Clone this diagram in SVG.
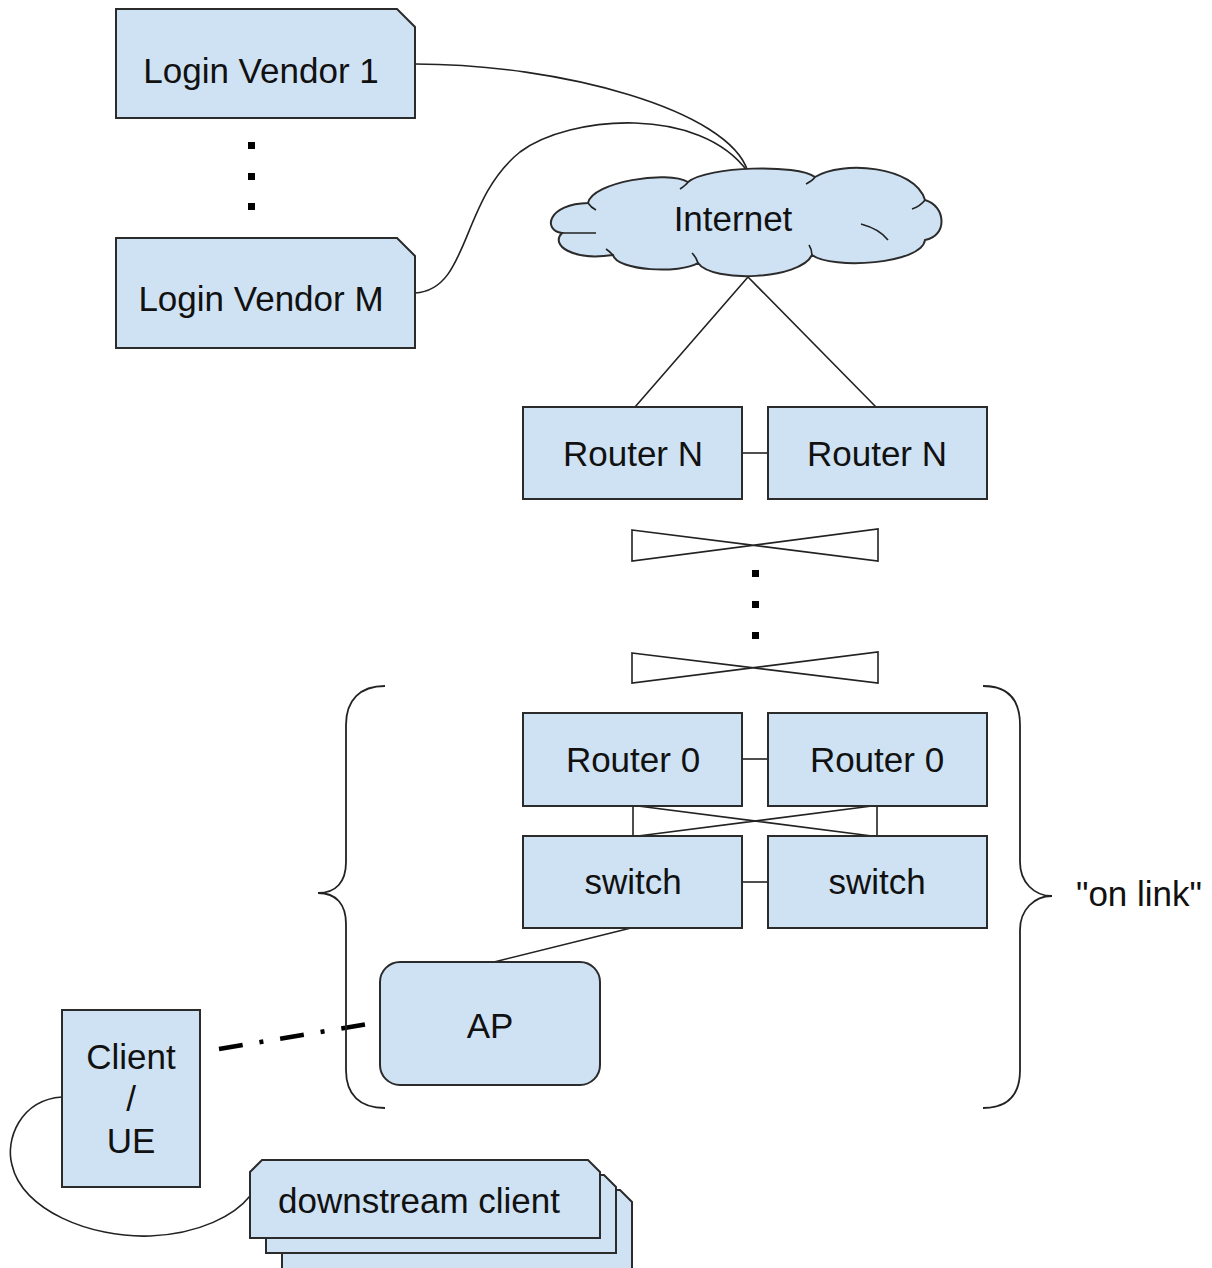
<svg xmlns="http://www.w3.org/2000/svg" width="1212" height="1268" viewBox="0 0 1212 1268">
<style>
.box{fill:#cfe2f3;stroke:#2b2b2b;stroke-width:2}
.lbl{font-family:"Liberation Sans",Arial,sans-serif;font-size:35px;fill:#111;text-anchor:middle}
.ln{fill:none;stroke:#222;stroke-width:1.6}
.dot{fill:#000}
.brace{fill:none;stroke:#222;stroke-width:1.8}
</style>
<rect width="1212" height="1268" fill="#fff"/>

<g id="connectors">
  <path class="ln" d="M415,64 C560,64 730,110 748,172"/>
  <path class="ln" d="M415,293 C470,290 460,200 520,152 C570,115 700,105 748,172"/>
  <path class="ln" d="M748,277 L635,407 M748,277 L876,407"/>
  <path class="ln" d="M742,453 L768,453"/>
  <path class="ln" d="M742,759 L768,759"/>
  <path class="ln" d="M633,806 L633,836 M877,806 L877,836 M638,806 L872,836 M872,806 L638,836"/>
  <path class="ln" d="M742,882 L768,882"/>
  <path class="ln" d="M631,928 L494,962"/>
  <path fill="none" stroke="#000" stroke-width="4.5" stroke-dasharray="24 17 4 17" d="M219,1049 L368,1024"/>
  <path class="ln" d="M62,1097 C20,1100 5,1140 12,1165 C22,1210 90,1238 150,1236 C200,1234 235,1215 250,1196"/>
</g>

<g id="vendor-1">
  <path class="box" d="M116,9 L397,9 L415,27 L415,118 L116,118 Z"/>
  <text class="lbl" x="261" y="83">Login Vendor 1</text>
</g>
<g id="vendor-dots">
  <rect class="dot" x="248" y="142" width="7" height="7"/>
  <rect class="dot" x="248" y="173" width="7" height="7"/>
  <rect class="dot" x="248" y="203" width="7" height="7"/>
</g>
<g id="vendor-m">
  <path class="box" d="M116,238 L397,238 L415,256 L415,348 L116,348 Z"/>
  <text class="lbl" x="261" y="311">Login Vendor M</text>
</g>

<g id="internet">
  <path class="box" d="M562,233 C542,230 548,204 588,203 C592,182 668,170 688,182 C708,166 798,164 815,177 C842,160 915,166 925,200 C946,206 948,236 925,240 C922,264 832,270 812,255 C800,280 712,283 698,263 C680,274 617,271 613,255 C572,261 550,245 562,233 Z"/>
  <path class="ln" d="M562,233 C575,233 588,233 596,233 M588,203 C590,206 592,208 596,210 M688,182 C686,185 683,187 680,189 M815,177 C813,180 810,182 806,184 M925,200 C922,204 918,207 912,209 M861,224 C872,227 882,232 888,240 M812,255 C812,251 811,248 809,245 M698,263 C697,259 695,256 692,253 M613,255 C611,253 609,251 606,249"/>
  <text class="lbl" x="733" y="231">Internet</text>
</g>

<g id="router-n-left">
  <rect class="box" x="523" y="407" width="219" height="92"/>
  <text class="lbl" x="633" y="466">Router N</text>
</g>
<g id="router-n-right">
  <rect class="box" x="768" y="407" width="219" height="92"/>
  <text class="lbl" x="877" y="466">Router N</text>
</g>

<g id="bowtie-top">
  <path fill="#fff" stroke="#222" stroke-width="1.6" d="M632,530 L878,561 L878,529 L632,561 Z"/>
</g>
<g id="middle-dots">
  <rect class="dot" x="752" y="570" width="7" height="7"/>
  <rect class="dot" x="752" y="601" width="7" height="7"/>
  <rect class="dot" x="752" y="632" width="7" height="7"/>
</g>
<g id="bowtie-bottom">
  <path fill="#fff" stroke="#222" stroke-width="1.6" d="M632,653 L878,683 L878,652 L632,683 Z"/>
</g>

<g id="brace-left">
  <path class="brace" d="M385,686 C360,686 346,700 346,725 L346,862 C346,882 336,893 318,893 C336,893 346,904 346,924 L346,1070 C346,1095 360,1108 385,1108"/>
</g>
<g id="brace-right">
  <path class="brace" d="M983,686 C1008,686 1020,700 1020,725 L1020,862 C1020,882 1034,896 1052,896 C1034,896 1020,910 1020,930 L1020,1070 C1020,1095 1008,1108 983,1108"/>
  <text class="lbl" x="1139" y="906">"on link"</text>
</g>

<g id="router-0-left">
  <rect class="box" x="523" y="713" width="219" height="93"/>
  <text class="lbl" x="633" y="772">Router 0</text>
</g>
<g id="router-0-right">
  <rect class="box" x="768" y="713" width="219" height="93"/>
  <text class="lbl" x="877" y="772">Router 0</text>
</g>
<g id="switch-left">
  <rect class="box" x="523" y="836" width="219" height="92"/>
  <text class="lbl" x="633" y="894">switch</text>
</g>
<g id="switch-right">
  <rect class="box" x="768" y="836" width="219" height="92"/>
  <text class="lbl" x="877" y="894">switch</text>
</g>

<g id="ap">
  <rect class="box" x="380" y="962" width="220" height="123" rx="20" ry="20"/>
  <text class="lbl" x="490" y="1038">AP</text>
</g>

<g id="client-ue">
  <rect class="box" x="62" y="1010" width="138" height="177"/>
  <text class="lbl" x="131" y="1069">Client</text>
  <text class="lbl" x="131" y="1111">/</text>
  <text class="lbl" x="131" y="1153">UE</text>
</g>

<g id="downstream-client">
  <path class="box" d="M294,1190 L620,1190 L632,1202 L632,1275 L282,1275 L282,1202 Z"/>
  <path class="box" d="M278,1175 L604,1175 L616,1187 L616,1253 L266,1253 L266,1187 Z"/>
  <path class="box" d="M262,1160 L588,1160 L600,1172 L600,1238 L250,1238 L250,1172 Z"/>
  <text class="lbl" x="419" y="1213">downstream client</text>
</g>
</svg>
